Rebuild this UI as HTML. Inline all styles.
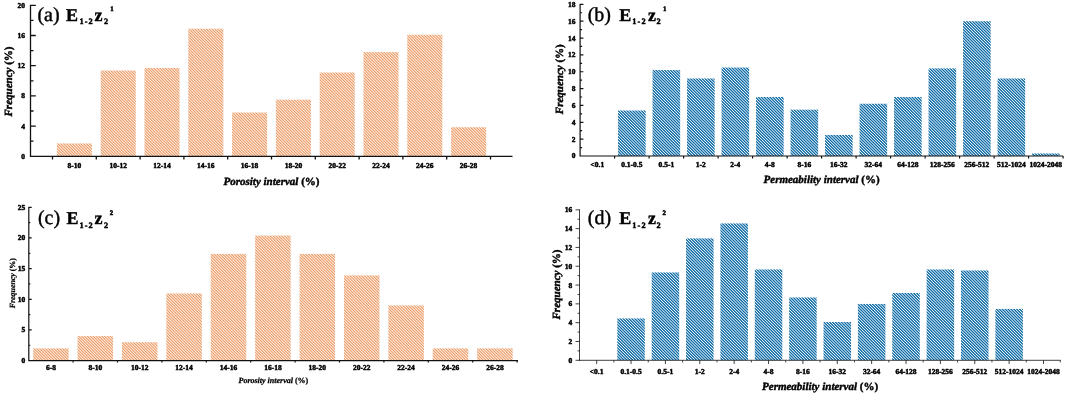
<!DOCTYPE html>
<html lang="en">
<head>
<meta charset="utf-8">
<title>Porosity and permeability frequency histograms</title>
<style>
html,body{margin:0;padding:0;background:#fff;}
body{width:1065px;height:394px;overflow:hidden;}
#fig{width:1065px;height:394px;will-change:transform;}
svg{display:block;}
text{font-family:"Liberation Serif", "Times New Roman", serif;fill:#000;stroke:#000;stroke-width:0.42px;stroke-linejoin:round;text-rendering:geometricPrecision;}
.b{font-weight:bold;}
.bi{font-weight:bold;font-style:italic;}
.tk text{stroke-width:0.48px;}
text.s25{stroke-width:0.25px;}
text.s45{stroke-width:0.45px;}
text.s55{stroke-width:0.55px;}
</style>
</head>
<body>
<div id="fig">
<svg width="1065" height="394" viewBox="0 0 1065 394">
<defs>
<linearGradient id="ho" gradientUnits="userSpaceOnUse" spreadMethod="repeat" x1="0" y1="0" x2="1.43" y2="-1.43"><stop offset="0" stop-color="#eca070"/><stop offset="0.08" stop-color="#eca070"/><stop offset="0.42" stop-color="#fce6d6"/><stop offset="0.58" stop-color="#fce6d6"/><stop offset="0.92" stop-color="#eca070"/><stop offset="1" stop-color="#eca070"/></linearGradient>
<linearGradient id="hb" gradientUnits="userSpaceOnUse" spreadMethod="repeat" x1="0" y1="0" x2="1.45" y2="-1.45"><stop offset="0" stop-color="#126ca6"/><stop offset="0.13" stop-color="#126ca6"/><stop offset="0.47" stop-color="#e6f2f9"/><stop offset="0.53" stop-color="#e6f2f9"/><stop offset="0.87" stop-color="#126ca6"/><stop offset="1" stop-color="#126ca6"/></linearGradient>
</defs>
<rect width="1065" height="394" fill="#ffffff"/>
<g id="panel-a">
<rect x="56.88" y="143.47" width="35.04" height="12.83" fill="url(#ho)"/>
<rect x="100.68" y="70.53" width="35.04" height="85.77" fill="url(#ho)"/>
<rect x="144.48" y="67.97" width="35.04" height="88.33" fill="url(#ho)"/>
<rect x="188.28" y="28.71" width="35.04" height="127.59" fill="url(#ho)"/>
<rect x="232.08" y="112.51" width="35.04" height="43.79" fill="url(#ho)"/>
<rect x="275.88" y="99.68" width="35.04" height="56.62" fill="url(#ho)"/>
<rect x="319.68" y="72.5" width="35.04" height="83.8" fill="url(#ho)"/>
<rect x="363.48" y="52.11" width="35.04" height="104.19" fill="url(#ho)"/>
<rect x="407.28" y="34.75" width="35.04" height="121.56" fill="url(#ho)"/>
<rect x="451.08" y="127.23" width="35.04" height="29.07" fill="url(#ho)"/>
<path d="M30.5,4.65V156.95M29.85,156.3H512.5M30.5,156.3h5.3M30.5,141.2h3M30.5,126.1h5.3M30.5,111h3M30.5,95.9h5.3M30.5,80.8h3M30.5,65.7h5.3M30.5,50.6h3M30.5,35.5h5.3M30.5,20.4h3M30.5,5.3h5.3M52.5,156.3v3.15M96.3,156.3v3.15M140.1,156.3v3.15M183.9,156.3v3.15M227.7,156.3v3.15M271.5,156.3v3.15M315.3,156.3v3.15M359.1,156.3v3.15M402.9,156.3v3.15M446.7,156.3v3.15M490.5,156.3v3.15" stroke="#111" stroke-width="1.3" fill="none"/>
<g class="b tk" font-size="7.5" text-anchor="end">
<text x="24.9" y="158.78">0</text><text x="24.9" y="128.58">4</text><text x="24.9" y="98.38">8</text><text x="24.9" y="68.18">12</text><text x="24.9" y="37.98">16</text><text x="24.9" y="7.78">20</text>
</g>
<g class="b tk" font-size="7.5" text-anchor="middle">
<text x="74.4" y="168">8-10</text><text x="118.2" y="168">10-12</text><text x="162" y="168">12-14</text><text x="205.8" y="168">14-16</text><text x="249.6" y="168">16-18</text><text x="293.4" y="168">18-20</text><text x="337.2" y="168">20-22</text><text x="381" y="168">22-24</text><text x="424.8" y="168">24-26</text><text x="468.6" y="168">26-28</text>
</g>
<text x="271.5" y="184.9" font-size="11" text-anchor="middle"><tspan class="bi">Porosity interval</tspan><tspan class="b"> (%)</tspan></text>
<text transform="translate(11.8,81.5) rotate(-90)" font-size="11" text-anchor="middle"><tspan class="bi">Frequency</tspan><tspan class="b"> (%)</tspan></text>
<text x="37.4" y="20.5" font-size="20">(a)</text>
<text class="b" x="66.1" y="20.5" font-size="18">E</text><text class="b s45" x="79.5" y="24.3" font-size="8.3" letter-spacing="1.1">1-2</text><text class="b" x="94.4" y="20.5" font-size="18">z</text><text class="b s45" x="103.9" y="24.3" font-size="8.3">2</text><text class="b s55" x="110.2" y="11.4" font-size="6.8">1</text>
</g>
<g id="panel-b">
<rect x="618.05" y="110.5" width="27.6" height="45.5" fill="url(#hb)"/>
<rect x="652.55" y="70.06" width="27.6" height="85.94" fill="url(#hb)"/>
<rect x="687.05" y="78.49" width="27.6" height="77.51" fill="url(#hb)"/>
<rect x="721.55" y="67.54" width="27.6" height="88.46" fill="url(#hb)"/>
<rect x="756.05" y="97.02" width="27.6" height="58.98" fill="url(#hb)"/>
<rect x="790.55" y="109.66" width="27.6" height="46.34" fill="url(#hb)"/>
<rect x="825.05" y="134.94" width="27.6" height="21.06" fill="url(#hb)"/>
<rect x="859.55" y="103.76" width="27.6" height="52.24" fill="url(#hb)"/>
<rect x="894.05" y="97.02" width="27.6" height="58.98" fill="url(#hb)"/>
<rect x="928.55" y="68.38" width="27.6" height="87.62" fill="url(#hb)"/>
<rect x="963.05" y="21.2" width="27.6" height="134.8" fill="url(#hb)"/>
<rect x="997.55" y="78.49" width="27.6" height="77.51" fill="url(#hb)"/>
<rect x="1032.05" y="153.47" width="27.6" height="2.53" fill="url(#hb)"/>
<path d="M580.1,3.75V156.6M579.5,156H1063.1M580.1,156h3.3M580.1,147.57h2M580.1,139.15h3.3M580.1,130.72h2M580.1,122.3h3.3M580.1,113.88h2M580.1,105.45h3.3M580.1,97.02h2M580.1,88.6h3.3M580.1,80.17h2M580.1,71.75h3.3M580.1,63.32h2M580.1,54.9h3.3M580.1,46.47h2M580.1,38.05h3.3M580.1,29.62h2M580.1,21.2h3.3M580.1,12.77h2M580.1,4.35h3.3M614.6,156v2.6M649.1,156v2.6M683.6,156v2.6M718.1,156v2.6M752.6,156v2.6M787.1,156v2.6M821.6,156v2.6M856.1,156v2.6M890.6,156v2.6M925.1,156v2.6M959.6,156v2.6M994.1,156v2.6M1028.6,156v2.6M1063.1,156v2.6" stroke="#111" stroke-width="1.2" fill="none"/>
<g class="b tk" font-size="7.5" text-anchor="end">
<text x="575.6" y="158.47">0</text><text x="575.6" y="141.62">2</text><text x="575.6" y="124.77">4</text><text x="575.6" y="107.92">6</text><text x="575.6" y="91.07">8</text><text x="575.6" y="74.22">10</text><text x="575.6" y="57.37">12</text><text x="575.6" y="40.52">14</text><text x="575.6" y="23.67">16</text><text x="575.6" y="6.82">18</text>
</g>
<g class="b tk" font-size="7.5" text-anchor="middle">
<text x="597.35" y="167">&lt;0.1</text><text x="631.85" y="167">0.1-0.5</text><text x="666.35" y="167">0.5-1</text><text x="700.85" y="167">1-2</text><text x="735.35" y="167">2-4</text><text x="769.85" y="167">4-8</text><text x="804.35" y="167">8-16</text><text x="838.85" y="167">16-32</text><text x="873.35" y="167">32-64</text><text x="907.85" y="167">64-128</text><text x="942.35" y="167">128-256</text><text x="976.85" y="167">256-512</text><text x="1011.35" y="167">512-1024</text><text x="1045.85" y="167">1024-2048</text>
</g>
<text x="821.6" y="182.5" font-size="11" text-anchor="middle"><tspan class="bi">Permeability interval</tspan><tspan class="b"> (%)</tspan></text>
<text transform="translate(563,79.2) rotate(-90)" font-size="11" text-anchor="middle"><tspan class="bi">Frequency</tspan><tspan class="b"> (%)</tspan></text>
<text x="587.7" y="20.5" font-size="20">(b)</text>
<text class="b" x="619.2" y="20.5" font-size="18">E</text><text class="b s45" x="632.3" y="24.3" font-size="8.3" letter-spacing="1.1">1-2</text><text class="b" x="647.9" y="20.5" font-size="18">z</text><text class="b s45" x="656.4" y="24.3" font-size="8.3">2</text><text class="b s55" x="662.9" y="11.4" font-size="6.8">1</text>
</g>
<g id="panel-c">
<rect x="33.14" y="348.34" width="35.52" height="12.26" fill="url(#ho)"/>
<rect x="77.54" y="336.07" width="35.52" height="24.53" fill="url(#ho)"/>
<rect x="121.94" y="342.2" width="35.52" height="18.4" fill="url(#ho)"/>
<rect x="166.34" y="293.45" width="35.52" height="67.15" fill="url(#ho)"/>
<rect x="210.74" y="253.9" width="35.52" height="106.7" fill="url(#ho)"/>
<rect x="255.14" y="235.51" width="35.52" height="125.09" fill="url(#ho)"/>
<rect x="299.54" y="253.9" width="35.52" height="106.7" fill="url(#ho)"/>
<rect x="343.94" y="275.37" width="35.52" height="85.23" fill="url(#ho)"/>
<rect x="388.34" y="305.41" width="35.52" height="55.19" fill="url(#ho)"/>
<rect x="432.74" y="348.34" width="35.52" height="12.26" fill="url(#ho)"/>
<rect x="477.14" y="348.34" width="35.52" height="12.26" fill="url(#ho)"/>
<path d="M28.8,206.7V361.2M28.2,360.6H518M28.8,360.6h2.9M28.8,345.27h1.5M28.8,329.94h2.9M28.8,314.61h1.5M28.8,299.28h2.9M28.8,283.95h1.5M28.8,268.62h2.9M28.8,253.29h1.5M28.8,237.96h2.9M28.8,222.63h1.5M28.8,207.3h2.9M73.1,360.6v1.9M117.5,360.6v1.9M161.9,360.6v1.9M206.3,360.6v1.9M250.7,360.6v1.9M295.1,360.6v1.9M339.5,360.6v1.9M383.9,360.6v1.9M428.3,360.6v1.9M472.7,360.6v1.9M517.1,360.6v1.9" stroke="#111" stroke-width="1.2" fill="none"/>
<g class="b tk" font-size="7.5" text-anchor="end">
<text x="25.2" y="363.08">0</text><text x="25.2" y="332.42">5</text><text x="25.2" y="301.76">10</text><text x="25.2" y="271.1">15</text><text x="25.2" y="240.44">20</text><text x="25.2" y="209.78">25</text>
</g>
<g class="b tk" font-size="7.5" text-anchor="middle">
<text x="50.9" y="369.8">6-8</text><text x="95.3" y="369.8">8-10</text><text x="139.7" y="369.8">10-12</text><text x="184.1" y="369.8">12-14</text><text x="228.5" y="369.8">14-16</text><text x="272.9" y="369.8">16-18</text><text x="317.3" y="369.8">18-20</text><text x="361.7" y="369.8">20-22</text><text x="406.1" y="369.8">22-24</text><text x="450.5" y="369.8">24-26</text><text x="494.9" y="369.8">26-28</text>
</g>
<text x="273.4" y="382.9" font-size="8" text-anchor="middle" class="s25"><tspan class="bi">Porosity interval</tspan><tspan class="b"> (%)</tspan></text>
<text transform="translate(14.9,283.2) rotate(-90)" font-size="7.9" text-anchor="middle" class="s25"><tspan class="bi">Frequency</tspan><tspan class="b"> (%)</tspan></text>
<text x="37.9" y="224.2" font-size="20">(c)</text>
<text class="b" x="66.6" y="224.2" font-size="18">E</text><text class="b s45" x="79.4" y="228" font-size="8.3" letter-spacing="1.1">1-2</text><text class="b" x="94.5" y="224.2" font-size="18">z</text><text class="b s45" x="104.1" y="228" font-size="8.3">2</text><text class="b s55" x="109.8" y="215.1" font-size="6.8">2</text>
</g>
<g id="panel-d">
<rect x="617.31" y="318.44" width="27.5" height="41.86" fill="url(#hb)"/>
<rect x="651.68" y="272.45" width="27.5" height="87.85" fill="url(#hb)"/>
<rect x="686.05" y="238.4" width="27.5" height="121.91" fill="url(#hb)"/>
<rect x="720.42" y="223.44" width="27.5" height="136.86" fill="url(#hb)"/>
<rect x="754.79" y="269.44" width="27.5" height="90.86" fill="url(#hb)"/>
<rect x="789.16" y="297.47" width="27.5" height="62.83" fill="url(#hb)"/>
<rect x="823.53" y="322.02" width="27.5" height="38.28" fill="url(#hb)"/>
<rect x="857.9" y="303.96" width="27.5" height="56.34" fill="url(#hb)"/>
<rect x="892.27" y="292.95" width="27.5" height="67.35" fill="url(#hb)"/>
<rect x="926.64" y="269.44" width="27.5" height="90.86" fill="url(#hb)"/>
<rect x="961.01" y="270.47" width="27.5" height="89.83" fill="url(#hb)"/>
<rect x="995.38" y="308.94" width="27.5" height="51.36" fill="url(#hb)"/>
<path d="M579.5,209.4V360.7M579.1,360.3H1060.7M579.5,360.3h-4M579.5,350.89h-2M579.5,341.49h-4M579.5,332.08h-2M579.5,322.68h-4M579.5,313.27h-2M579.5,303.86h-4M579.5,294.46h-2M579.5,285.05h-4M579.5,275.64h-2M579.5,266.24h-4M579.5,256.83h-2M579.5,247.43h-4M579.5,238.02h-2M579.5,228.61h-4M579.5,219.21h-2M579.5,209.8h-4M596.68,360.3v3.7M631.05,360.3v3.7M665.42,360.3v3.7M699.79,360.3v3.7M734.16,360.3v3.7M768.53,360.3v3.7M802.9,360.3v3.7M837.27,360.3v3.7M871.64,360.3v3.7M906.01,360.3v3.7M940.38,360.3v3.7M974.75,360.3v3.7M1009.12,360.3v3.7M1043.49,360.3v3.7M613.87,360.3v2.1M648.24,360.3v2.1M682.61,360.3v2.1M716.98,360.3v2.1M751.35,360.3v2.1M785.72,360.3v2.1M820.09,360.3v2.1M854.46,360.3v2.1M888.83,360.3v2.1M923.2,360.3v2.1M957.57,360.3v2.1M991.94,360.3v2.1M1026.31,360.3v2.1M1060.3,360.3v2.1" stroke="#111" stroke-width="0.8" fill="none"/>
<g class="b tk" font-size="7.5" text-anchor="end">
<text x="572.2" y="362.78">0</text><text x="572.2" y="343.96">2</text><text x="572.2" y="325.15">4</text><text x="572.2" y="306.34">6</text><text x="572.2" y="287.53">8</text><text x="572.2" y="268.71">10</text><text x="572.2" y="249.9">12</text><text x="572.2" y="231.09">14</text><text x="572.2" y="212.28">16</text>
</g>
<g class="b tk" font-size="7.5" text-anchor="middle">
<text x="596.68" y="373.6">&lt;0.1</text><text x="631.05" y="373.6">0.1-0.5</text><text x="665.42" y="373.6">0.5-1</text><text x="699.79" y="373.6">1-2</text><text x="734.16" y="373.6">2-4</text><text x="768.53" y="373.6">4-8</text><text x="802.9" y="373.6">8-16</text><text x="837.27" y="373.6">16-32</text><text x="871.64" y="373.6">32-64</text><text x="906.01" y="373.6">64-128</text><text x="940.38" y="373.6">128-256</text><text x="974.75" y="373.6">256-512</text><text x="1009.12" y="373.6">512-1024</text><text x="1043.49" y="373.6">1024-2048</text>
</g>
<text x="820.1" y="389.6" font-size="11" text-anchor="middle"><tspan class="bi">Permeability interval</tspan><tspan class="b"> (%)</tspan></text>
<text transform="translate(559.7,284.5) rotate(-90)" font-size="11" text-anchor="middle"><tspan class="bi">Frequency</tspan><tspan class="b"> (%)</tspan></text>
<text x="587.8" y="224.2" font-size="20">(d)</text>
<text class="b" x="619.2" y="224.2" font-size="18">E</text><text class="b s45" x="632.3" y="228" font-size="8.3" letter-spacing="1.1">1-2</text><text class="b" x="647.9" y="224.2" font-size="18">z</text><text class="b s45" x="656.4" y="228" font-size="8.3">2</text><text class="b s55" x="662.6" y="215.1" font-size="6.8">2</text>
</g>
</svg>
</div>
</body>
</html>
